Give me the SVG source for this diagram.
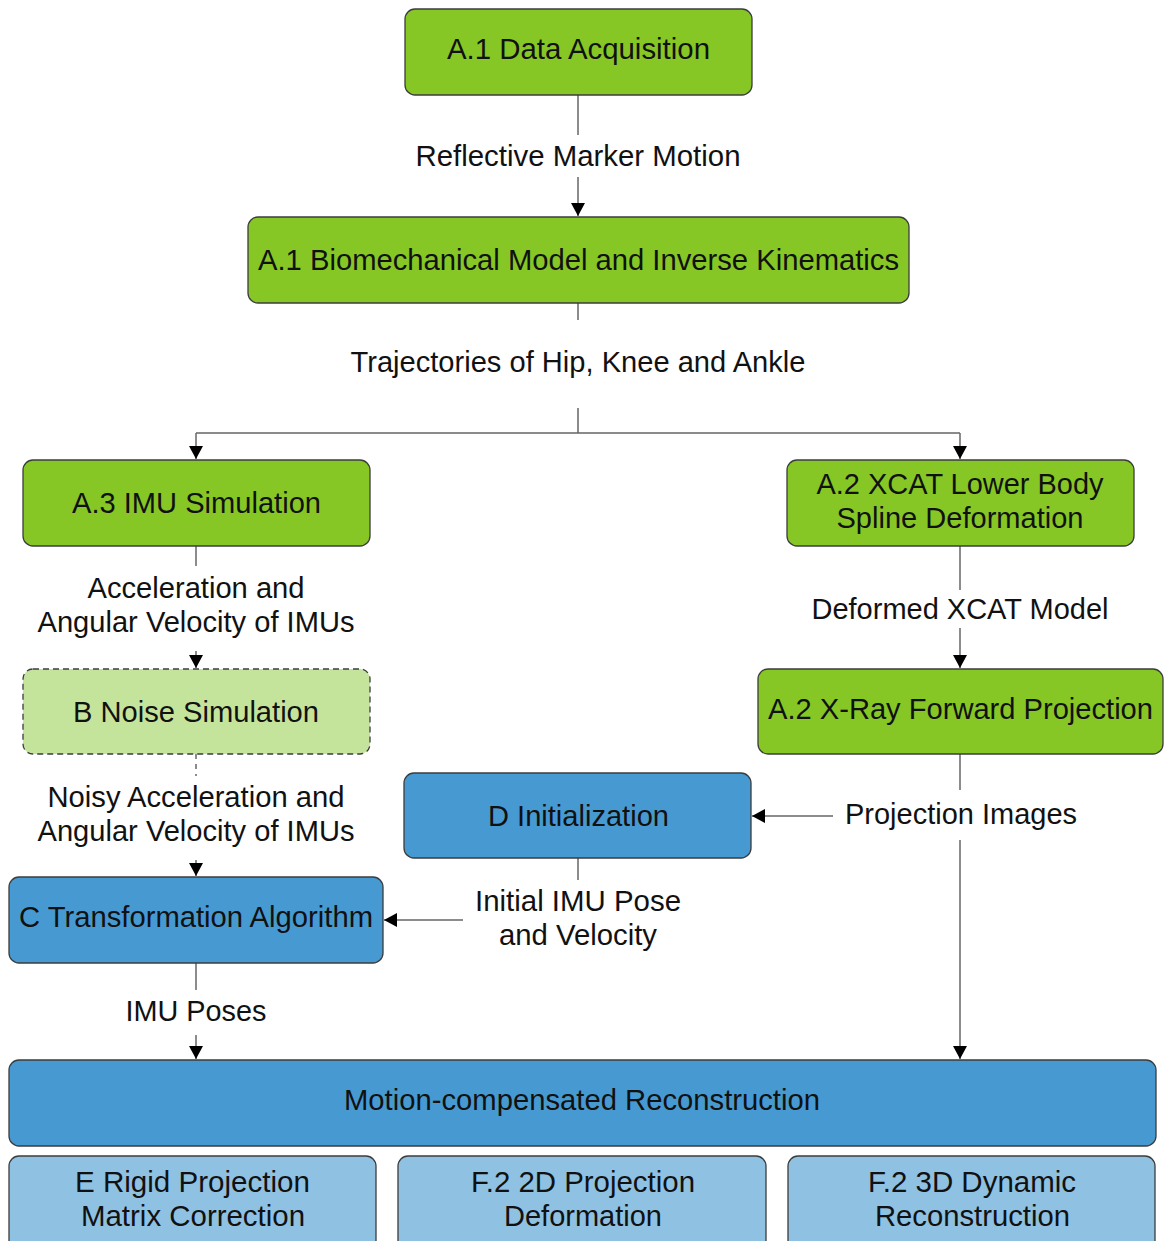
<svg xmlns="http://www.w3.org/2000/svg" width="1165" height="1241" viewBox="0 0 1165 1241">
<style>
text{font-family:"Liberation Sans",Arial,Helvetica,sans-serif;font-size:29px;fill:#111;text-anchor:middle}
.box{stroke:#3c3c3c;stroke-width:1.3}
.g{fill:#86c726}
.lg{fill:#c5e49b;stroke-dasharray:6 4}
.b{fill:#479ad1}
.lb{fill:#8fc1e3}
.c{fill:none;stroke:#666;stroke-width:1.5}
.d{stroke-dasharray:5 5}
</style>
<defs>
<marker id="ah" markerUnits="userSpaceOnUse" markerWidth="14" markerHeight="14" refX="13" refY="7" orient="auto">
<path d="M0,0 L13,7 L0,14 z" fill="#000"/>
</marker>
</defs>
<rect width="1165" height="1241" fill="#fff"/>
<g id="connectors">
<path class="c" d="M578,95 V135"/>
<path class="c" d="M578,177 V216" marker-end="url(#ah)"/>
<path class="c" d="M578,303 V320"/>
<path class="c" d="M578,408 V433 M196,433 H960"/>
<path class="c" d="M196,433 V459" marker-end="url(#ah)"/>
<path class="c" d="M960,433 V459" marker-end="url(#ah)"/>
<path class="c" d="M196,546 V566"/>
<path class="c" d="M196,651 V668" marker-end="url(#ah)"/>
<path class="c d" d="M196,754 V776"/>
<path class="c" d="M196,860 V876" marker-end="url(#ah)"/>
<path class="c" d="M196,963 V990"/>
<path class="c" d="M196,1035 V1059" marker-end="url(#ah)"/>
<path class="c" d="M960,546 V590"/>
<path class="c" d="M960,628 V668" marker-end="url(#ah)"/>
<path class="c" d="M960,754 V790"/>
<path class="c" d="M960,840 V1059" marker-end="url(#ah)"/>
<path class="c" d="M833,816 H752" marker-end="url(#ah)"/>
<path class="c" d="M578,858 V880"/>
<path class="c" d="M463,920 H384" marker-end="url(#ah)"/>
<text x="578" y="166" textLength="325" lengthAdjust="spacingAndGlyphs">Reflective Marker Motion</text>
<text x="578" y="372" textLength="455" lengthAdjust="spacingAndGlyphs">Trajectories of Hip, Knee and Ankle</text>
<text x="196" y="598" textLength="217" lengthAdjust="spacingAndGlyphs">Acceleration and</text>
<text x="196" y="632" textLength="317" lengthAdjust="spacingAndGlyphs">Angular Velocity of IMUs</text>
<text x="196" y="807" textLength="297" lengthAdjust="spacingAndGlyphs">Noisy Acceleration and</text>
<text x="196" y="841" textLength="317" lengthAdjust="spacingAndGlyphs">Angular Velocity of IMUs</text>
<text x="196" y="1021" textLength="141" lengthAdjust="spacingAndGlyphs">IMU Poses</text>
<text x="960" y="619" textLength="297" lengthAdjust="spacingAndGlyphs">Deformed XCAT Model</text>
<text x="961" y="824" textLength="232" lengthAdjust="spacingAndGlyphs">Projection Images</text>
<text x="578" y="911" textLength="206" lengthAdjust="spacingAndGlyphs">Initial IMU Pose</text>
<text x="578" y="945" textLength="158" lengthAdjust="spacingAndGlyphs">and Velocity</text>
</g>
<g id="n-data-acq">
<rect class="box g" x="405" y="9" width="347" height="86" rx="10"/>
<text x="578.5" y="59" textLength="263" lengthAdjust="spacingAndGlyphs">A.1 Data Acquisition</text>
</g>
<g id="n-biomech">
<rect class="box g" x="248" y="217" width="661" height="86" rx="10"/>
<text x="578.5" y="270" textLength="641" lengthAdjust="spacingAndGlyphs">A.1 Biomechanical Model and Inverse Kinematics</text>
</g>
<g id="n-imu-sim">
<rect class="box g" x="23" y="460" width="347" height="86" rx="10"/>
<text x="196.5" y="513" textLength="249" lengthAdjust="spacingAndGlyphs">A.3 IMU Simulation</text>
</g>
<g id="n-xcat">
<rect class="box g" x="787" y="460" width="347" height="86" rx="10"/>
<text x="960" y="494" textLength="287" lengthAdjust="spacingAndGlyphs">A.2 XCAT Lower Body</text>
<text x="960" y="528" textLength="247" lengthAdjust="spacingAndGlyphs">Spline Deformation</text>
</g>
<g id="n-noise">
<rect class="box lg" x="23" y="669" width="347" height="85" rx="10"/>
<text x="196" y="722" textLength="246" lengthAdjust="spacingAndGlyphs">B Noise Simulation</text>
</g>
<g id="n-xray">
<rect class="box g" x="758" y="669" width="405" height="85" rx="10"/>
<text x="960.5" y="719" textLength="385" lengthAdjust="spacingAndGlyphs">A.2 X-Ray Forward Projection</text>
</g>
<g id="n-init">
<rect class="box b" x="404" y="773" width="347" height="85" rx="10"/>
<text x="578.5" y="826" textLength="181" lengthAdjust="spacingAndGlyphs">D Initialization</text>
</g>
<g id="n-transform">
<rect class="box b" x="9" y="877" width="374" height="86" rx="10"/>
<text x="196" y="927" textLength="354" lengthAdjust="spacingAndGlyphs">C Transformation Algorithm</text>
</g>
<g id="n-mcr">
<rect class="box b" x="9" y="1060" width="1147" height="86" rx="10"/>
<text x="582" y="1110" textLength="476" lengthAdjust="spacingAndGlyphs">Motion-compensated Reconstruction</text>
</g>
<g id="n-rigid">
<rect class="box lb" x="9" y="1156" width="367" height="100" rx="10"/>
<text x="192.5" y="1192" textLength="235" lengthAdjust="spacingAndGlyphs">E Rigid Projection</text>
<text x="193" y="1226" textLength="224" lengthAdjust="spacingAndGlyphs">Matrix Correction</text>
</g>
<g id="n-2d">
<rect class="box lb" x="398" y="1156" width="368" height="100" rx="10"/>
<text x="583" y="1192" textLength="224" lengthAdjust="spacingAndGlyphs">F.2 2D Projection</text>
<text x="583" y="1226" textLength="158" lengthAdjust="spacingAndGlyphs">Deformation</text>
</g>
<g id="n-3d">
<rect class="box lb" x="788" y="1156" width="367" height="100" rx="10"/>
<text x="972" y="1192" textLength="208" lengthAdjust="spacingAndGlyphs">F.2 3D Dynamic</text>
<text x="972.5" y="1226" textLength="195" lengthAdjust="spacingAndGlyphs">Reconstruction</text>
</g>
</svg>
